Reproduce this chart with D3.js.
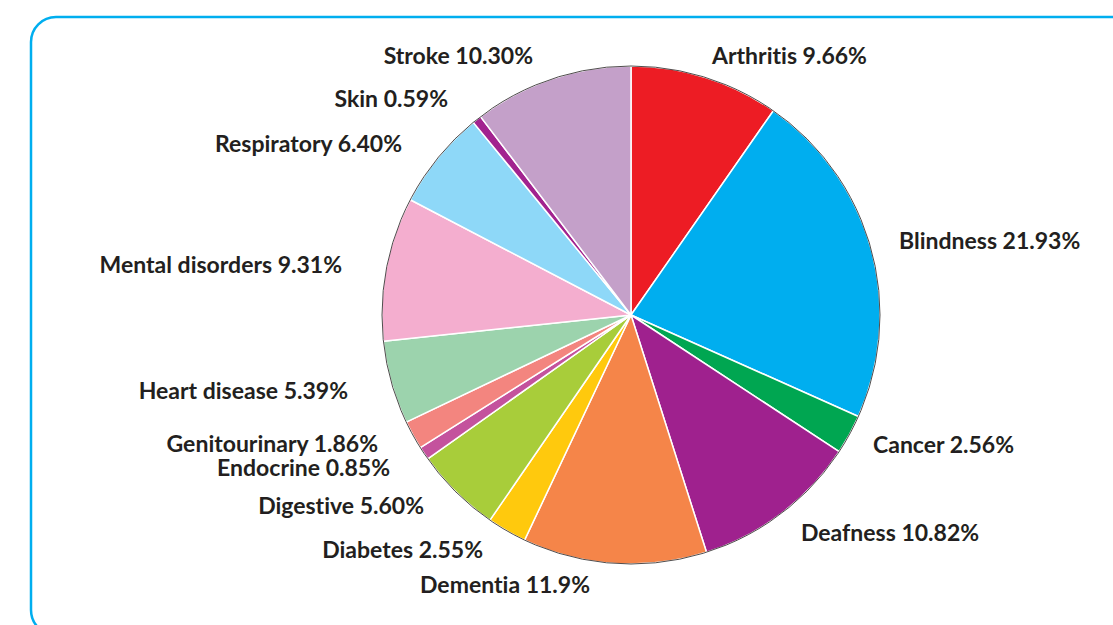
<!DOCTYPE html>
<html>
<head>
<meta charset="utf-8">
<script src="https://cdn.jsdelivr.net/npm/d3@7"></script>
<style>
  body { margin: 0; background: #fff; }
  svg { display: block; }
  text { font-variant-ligatures: none; }
</style>
</head>
<body>
<div id="chart"></div>
<script>
// data, clockwise from 12 o'clock
const categories = ['Arthritis', 'Blindness', 'Cancer', 'Deafness', 'Dementia', 'Diabetes', 'Digestive',
    'Endocrine', 'Genitourinary', 'Heart disease', 'Mental disorders', 'Respiratory', 'Skin', 'Stroke'];
const values = [9.66, 21.93, 2.56, 10.82, 11.9, 2.55, 5.60, 0.85, 1.86, 5.39, 9.31, 6.40, 0.59, 10.30];
const valueLabels = ['9.66%', '21.93%', '2.56%', '10.82%', '11.9%', '2.55%', '5.60%',
    '0.85%', '1.86%', '5.39%', '9.31%', '6.40%', '0.59%', '10.30%'];
const colors = ['#ed1c24', '#00aeef', '#00a651', '#9f218e', '#f58549', '#ffc90d', '#a8cd3a',
    '#c4529d', '#f3857f', '#9cd3ad', '#f4aecf', '#8ed8f8', '#a2238f', '#c4a0c9'];

// label placement relative to the pie centre: [dx, baseline dy, anchor]
const labelLayout = [
    [81, -251, 'start'], [268, -66, 'start'], [242, 138, 'start'], [170, 226, 'start'],
    [-41, 278, 'end'], [-148, 243, 'end'], [-207, 199, 'end'], [-241, 161, 'end'],
    [-253, 137, 'end'], [-283, 84, 'end'], [-289, -42, 'end'], [-229, -163, 'end'],
    [-183, -208, 'end'], [-98, -251, 'end']
];

const svgWidth = 1113;
const svgHeight = 625;
const cx = 631;
const cy = 315;
const radius = 249;

const svg = d3.select('#chart').append('svg')
    .attr('width', svgWidth)
    .attr('height', svgHeight);

// cyan rounded frame, runs off the right and bottom edges
svg.append('rect')
    .attr('x', 31)
    .attr('y', 17)
    .attr('width', 1200)
    .attr('height', 618)
    .attr('rx', 25)
    .attr('fill', 'none')
    .attr('stroke', '#00aeef')
    .attr('stroke-width', 2.5);

const data = categories.map((c, i) => ({ name: c, value: values[i], label: valueLabels[i], color: colors[i] }));

const pie = d3.pie()
    .value(d => d.value)
    .sort(null);

const arc = d3.arc()
    .innerRadius(0)
    .outerRadius(radius);

const chartGroup = svg.append('g')
    .attr('transform', `translate(${cx},${cy})`);

chartGroup.selectAll('path.slice')
    .data(pie(data))
    .enter()
    .append('path')
    .attr('class', 'slice')
    .attr('d', arc)
    .attr('fill', d => d.data.color)
    .attr('stroke', '#fff')
    .attr('stroke-width', 1.5)
    .attr('stroke-linejoin', 'round');

// thin dark outline round the pie
chartGroup.append('circle')
    .attr('r', radius)
    .attr('fill', 'none')
    .attr('stroke', '#231f20')
    .attr('stroke-width', 0.8);

chartGroup.selectAll('text.label')
    .data(data)
    .enter()
    .append('text')
    .attr('class', 'label')
    .attr('x', (d, i) => labelLayout[i][0])
    .attr('y', (d, i) => labelLayout[i][1])
    .attr('text-anchor', (d, i) => labelLayout[i][2])
    .attr('font-family', 'Lato, sans-serif')
    .attr('font-weight', 'bold')
    .attr('font-size', 23)
    .attr('fill', '#231f20')
    .text(d => `${d.name} ${d.label}`);
</script>
</body>
</html>
